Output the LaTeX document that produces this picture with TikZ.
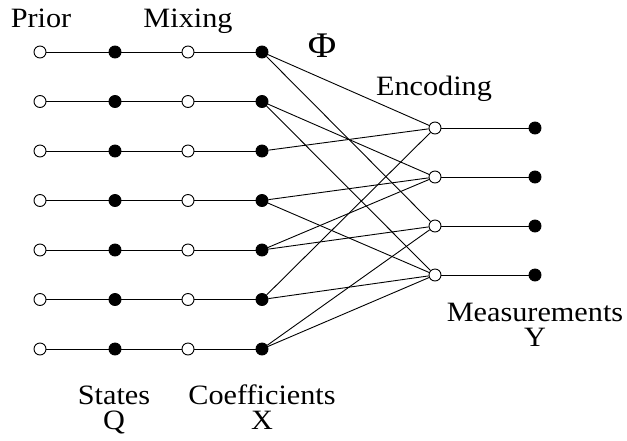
\documentclass[tikz,border=0pt]{standalone}
\usepackage{fontspec}
\setmainfont[FakeStretch=1.08]{Liberation Serif}
\usepackage{tikz}

\begin{document}
\begin{tikzpicture}[x=1pt, y=-1pt, line width=0.9pt,
  open/.style={circle, draw, fill=white, inner sep=0pt, minimum size=12pt},
  full/.style={circle, draw, fill=black, inner sep=0pt, minimum size=12pt},
  lbl/.style={font=\fontsize{28}{25}\selectfont, inner sep=0pt, anchor=base, align=center}]
\useasboundingbox (0,0) rectangle (627,440);

% Step 1: the seven chains from prior to coefficients
\foreach \i in {1,...,7} {
\pgfmathsetmacro{\rowy}{52+(\i-1)*49.5}
\node[open] (p\i) at (40,\rowy) {};
\node[full] (q\i) at (115,\rowy) {};
\node[open] (m\i) at (188,\rowy) {};
\node[full] (x\i) at (262,\rowy) {};
\draw (p\i) -- (q\i) -- (m\i) -- (x\i);
}

% Step 2: encoding and measurement nodes
\foreach \k in {1,...,4} {
\pgfmathsetmacro{\rowy}{128+(\k-1)*49}
\node[open] (e\k) at (435,\rowy) {};
\node[full] (y\k) at (535,\rowy) {};
\draw (e\k) -- (y\k);
}

% Step 3: the edges of Phi
\foreach \i/\k in {1/1,1/3,2/2,2/4,3/1,4/2,4/4,5/2,5/3,6/1,6/4,7/3,7/4}
\draw (x\i) -- (e\k);

% Labels (base is the last line)
\node[lbl] (prior) at (41,27) {Prior};
\node[lbl] (mixing) at (188,27) {Mixing};
\node[lbl, font=\fontsize{36}{36}\selectfont] (phi) at (322,57) {Φ};
\node[lbl] (encoding) at (434,95) {Encoding};
\node[lbl] (meas) at (535,346) {Measurements\\Y};
\node[lbl] (states) at (114,429) {States\\Q};
\node[lbl] (coef) at (262,429) {Coefficients\\X};
\end{tikzpicture}
\end{document}
